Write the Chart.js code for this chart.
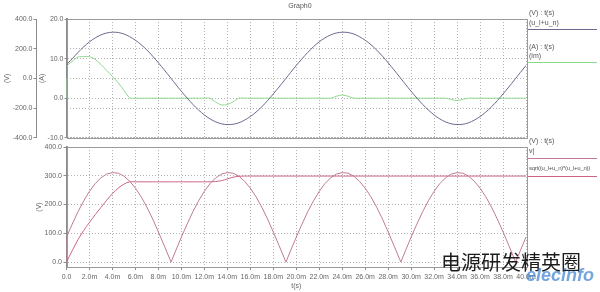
<!DOCTYPE html>
<html>
<head>
<meta charset="utf-8">
<script src="https://cdn.jsdelivr.net/npm/chart.js@4.4.0/dist/chart.umd.min.js"></script>
<style>
  body { margin: 0; background: #fff; }
  #wrap { position: relative; width: 600px; height: 292px; overflow: hidden; font-family: 'Liberation Sans', Arial, sans-serif; color: #555; }
  canvas { position: absolute; left: 0; }
  .txt { position: absolute; font-size: 7px; line-height: 8px; white-space: nowrap; }
  .narrow { font-size: 6px; letter-spacing: -0.25px; }
  .key { position: absolute; left: 528px; width: 69px; height: 0; border-top: 1px solid; }
  #mark { position: absolute; left: 441px; top: 252px; font-family: 'Noto Sans CJK SC', sans-serif; font-size: 20px; line-height: 20px; color: #1c1c1c; white-space: nowrap; }
  #logo { position: absolute; left: 526px; top: 265px; font-family: 'Liberation Sans', sans-serif; font-weight: bold; font-style: italic; font-size: 18px; line-height: 20px; color: #3b7fd0; opacity: 0.7; }
</style>
</head>
<body>
<div id="wrap">
  <canvas id="topChart" width="600" height="143" style="top:0"></canvas>
  <canvas id="bottomChart" width="600" height="152" style="top:140px"></canvas>

  <div class="txt" style="left:0;width:600px;text-align:center;top:2px">Graph0</div>

  <div class="txt" style="left:529px;top:9px">(V) : t(s)</div>
  <div class="txt" style="left:529px;top:19px">(u_l+u_n)</div>
  <div class="key" style="top:29px;border-color:#6a6a8e"></div>
  <div class="txt" style="left:529px;top:43px">(A) : t(s)</div>
  <div class="txt" style="left:529px;top:52px">(im)</div>
  <div class="key" style="top:62px;border-color:#8fd88f"></div>

  <div class="txt" style="left:529px;top:137px">(V) : t(s)</div>
  <div class="txt" style="left:529px;top:147px">v|</div>
  <div class="key" style="top:158px;border-color:#c07a9a"></div>
  <div class="txt narrow" style="left:529px;top:164px">sqrt((u_l+u_n)*(u_l+u_n))</div>
  <div class="key" style="top:176px;border-color:#cc6582"></div>

  <div id="mark">电源研发精英圈</div>
  <div id="logo">elecinfo</div>
</div>

<script>
// time axis in ms, 9.1 / 19.1 / ... are the zero crossings of the voltage
const timeMs = [
  0, 0, 0.5, 1, 1.5, 2, 2.5, 3, 3.5, 4, 4.5, 5, 5.5, 6, 6.5, 7, 7.5, 8, 8.5, 9, 9.1, 9.5,
  10, 10.5, 11, 11.5, 12, 12.5, 13, 13.5, 14, 14.5, 15, 15.5, 16, 16.5, 17, 17.5, 18, 18.5, 19, 19.1, 19.5,
  20, 20.5, 21, 21.5, 22, 22.5, 23, 23.5, 24, 24.5, 25, 25.5, 26, 26.5, 27, 27.5, 28, 28.5, 29, 29.1, 29.5,
  30, 30.5, 31, 31.5, 32, 32.5, 33, 33.5, 34, 34.5, 35, 35.5, 36, 36.5, 37, 37.5, 38, 38.5, 39, 39.1, 39.5,
  40
];

// (u_l+u_n) in V
const uLN = [
  0, 87, 132, 175, 213, 246, 273, 293, 306, 311, 309, 299, 281, 257, 227, 191, 150, 105, 58, 10, 0, -39,
  -87, -132, -175, -213, -246, -273, -293, -306, -311, -309, -299, -281, -257, -227, -191, -150, -105, -58, -10, 0, 39,
  87, 132, 175, 213, 246, 273, 293, 306, 311, 309, 299, 281, 257, 227, 191, 150, 105, 58, 10, 0, -39,
  -87, -132, -175, -213, -246, -273, -293, -306, -311, -309, -299, -281, -257, -227, -191, -150, -105, -58, -10, 0, 39,
  87
];

// (im) in A
const iM = [
  0, 7.8, 9.3, 10.4, 10.5, 10.5, 9.8, 8.5, 7.0, 5.5, 3.9, 2.0, 0.1, 0, 0, 0, 0, 0, 0, 0, 0, 0,
  0, 0, 0, 0, 0, 0, -1.0, -1.7, -1.6, -0.9, 0, 0, 0, 0, 0, 0, 0, 0, 0, 0, 0,
  0, 0, 0, 0, 0, 0, 0, 0.5, 0.8, 0.5, 0, 0, 0, 0, 0, 0, 0, 0, 0, 0, 0,
  0, 0, 0, 0, 0, 0, 0, -0.3, -0.6, -0.3, 0, 0, 0, 0, 0, 0, 0, 0, 0, 0, 0,
  0
];

// v| in V
const vAbs = [
  0, 87, 132, 175, 213, 246, 273, 293, 306, 311, 309, 299, 281, 257, 227, 191, 150, 105, 58, 10, 0, 39,
  87, 132, 175, 213, 246, 273, 293, 306, 311, 309, 299, 281, 257, 227, 191, 150, 105, 58, 10, 0, 39,
  87, 132, 175, 213, 246, 273, 293, 306, 311, 309, 299, 281, 257, 227, 191, 150, 105, 58, 10, 0, 39,
  87, 132, 175, 213, 246, 273, 293, 306, 311, 309, 299, 281, 257, 227, 191, 150, 105, 58, 10, 0, 39,
  87
];

// sqrt((u_l+u_n)*(u_l+u_n)) in V
const uSqrt = [
  0, 0, 40, 78, 110, 138, 165, 190, 215, 238, 257, 271, 279, 279, 279, 279, 279, 279, 279, 279, 279, 279,
  279, 279, 279, 279, 279, 279, 280, 283, 289, 295, 298, 299, 299, 299, 299, 299, 299, 299, 299, 299, 299,
  299, 299, 299, 299, 299, 299, 299, 299, 299, 299, 299, 299, 299, 299, 299, 299, 299, 299, 299, 299, 299,
  299, 299, 299, 299, 299, 299, 299, 299, 299, 299, 299, 299, 299, 299, 299, 299, 299, 299, 299, 299, 299,
  299
];

const timeTicks = [0, 2, 4, 6, 8, 10, 12, 14, 16, 18, 20, 22, 24, 26, 28, 30, 32, 34, 36, 38, 40];
const voltTicks = [-400, -200, 0, 200, 400];
const ampTicks = [-10, 0, 10, 20];
const absTicks = [0, 100, 200, 300, 400];

const gridColor = '#b4b4b4';
const axisColor = '#8c8c8c';

Chart.defaults.font.family = "'Liberation Sans', Arial, sans-serif";
Chart.defaults.font.size = 7;
Chart.defaults.color = '#666';

function fixedTicks(values) {
  return scale => { scale.ticks = values.map(v => ({ value: v })); };
}

// grey box round the plot area
const framePlugin = {
  id: 'frame',
  beforeDatasetsDraw(chart) {
    const { ctx, chartArea: a } = chart;
    ctx.save();
    ctx.strokeStyle = '#9a9a9a';
    ctx.lineWidth = 1;
    ctx.strokeRect(Math.round(a.left) + 0.5, Math.round(a.top) + 0.5, Math.round(a.right - a.left), Math.round(a.bottom - a.top));
    ctx.restore();
  }
};

new Chart(document.getElementById('topChart'), {
  type: 'line',
  data: {
    labels: timeMs,
    datasets: [
      { label: '(u_l+u_n)', data: uLN, yAxisID: 'yV', borderColor: '#6a6a8e', borderWidth: 1, pointRadius: 0, tension: 0.3 },
      { label: '(im)', data: iM, yAxisID: 'yA', borderColor: '#8fd88f', borderWidth: 1, pointRadius: 0, tension: 0.3 }
    ]
  },
  options: {
    animation: false,
    responsive: false,
    devicePixelRatio: 1,
    layout: { padding: { top: 19, right: 74, bottom: 5, left: 0 } },
    plugins: { legend: { display: false }, tooltip: { enabled: false } },
    scales: {
      x: {
        type: 'linear', min: 0, max: 40,
        afterBuildTicks: fixedTicks(timeTicks),
        afterFit: s => { s.height = 0; },
        ticks: { display: false },
        grid: { color: gridColor, drawTicks: false },
        border: { display: false, dash: [1, 2] }
      },
      yV: {
        position: 'left', weight: 1, min: -400, max: 400,
        afterBuildTicks: fixedTicks(voltTicks),
        afterFit: s => { s.width = 36.5; },
        ticks: { padding: 1, callback: v => v.toFixed(1) },
        grid: { color: gridColor, tickLength: 3, tickColor: axisColor },
        border: { color: axisColor, width: 1, dash: [1, 2] },
        title: { display: true, text: '(V)', padding: { top: 3, bottom: 0 } }
      },
      yA: {
        position: 'left', weight: 0, min: -10, max: 20,
        afterBuildTicks: fixedTicks(ampTicks),
        afterFit: s => { s.width = 30; },
        ticks: { padding: 1, callback: v => v.toFixed(1) },
        grid: { color: gridColor, tickLength: 2, tickColor: axisColor },
        border: { color: axisColor, width: 2, dash: [1, 2] },
        title: { display: true, text: '(A)', padding: { top: 1, bottom: 0 } }
      }
    }
  },
  plugins: [framePlugin]
});

new Chart(document.getElementById('bottomChart'), {
  type: 'line',
  data: {
    labels: timeMs,
    datasets: [
      { label: 'v|', data: vAbs, borderColor: '#c07a9a', borderWidth: 1, pointRadius: 0, tension: 0 },
      { label: 'sqrt((u_l+u_n)*(u_l+u_n))', data: uSqrt, borderColor: '#cc6582', borderWidth: 1, pointRadius: 0, tension: 0.3 }
    ]
  },
  options: {
    animation: false,
    responsive: false,
    devicePixelRatio: 1,
    layout: { padding: { top: 7, right: 74, bottom: 0, left: 0 } },
    plugins: { legend: { display: false }, tooltip: { enabled: false } },
    scales: {
      x: {
        type: 'linear', min: 0, max: 40,
        afterBuildTicks: fixedTicks(timeTicks),
        afterFit: s => { s.height = 25; },
        ticks: { padding: 3, autoSkip: false, maxRotation: 0, callback: v => v === 0 ? '0.0' : v.toFixed(1) + 'm' },
        grid: { color: gridColor, tickLength: 3, tickColor: axisColor },
        border: { color: axisColor, width: 1, dash: [1, 2] },
        title: { display: true, text: 't(s)', padding: { top: 0, bottom: 2 } }
      },
      y: {
        min: -17, max: 400,
        afterBuildTicks: fixedTicks(absTicks),
        afterFit: s => { s.width = 66.5; },
        ticks: { padding: 1.5, callback: v => v.toFixed(1) },
        grid: { color: gridColor, tickLength: 3, tickColor: axisColor },
        border: { color: axisColor, width: 2, dash: [1, 2] },
        title: { display: true, text: '(V)', padding: { top: 35, bottom: 0 } }
      }
    }
  },
  plugins: [framePlugin]
});
</script>
</body>
</html>
